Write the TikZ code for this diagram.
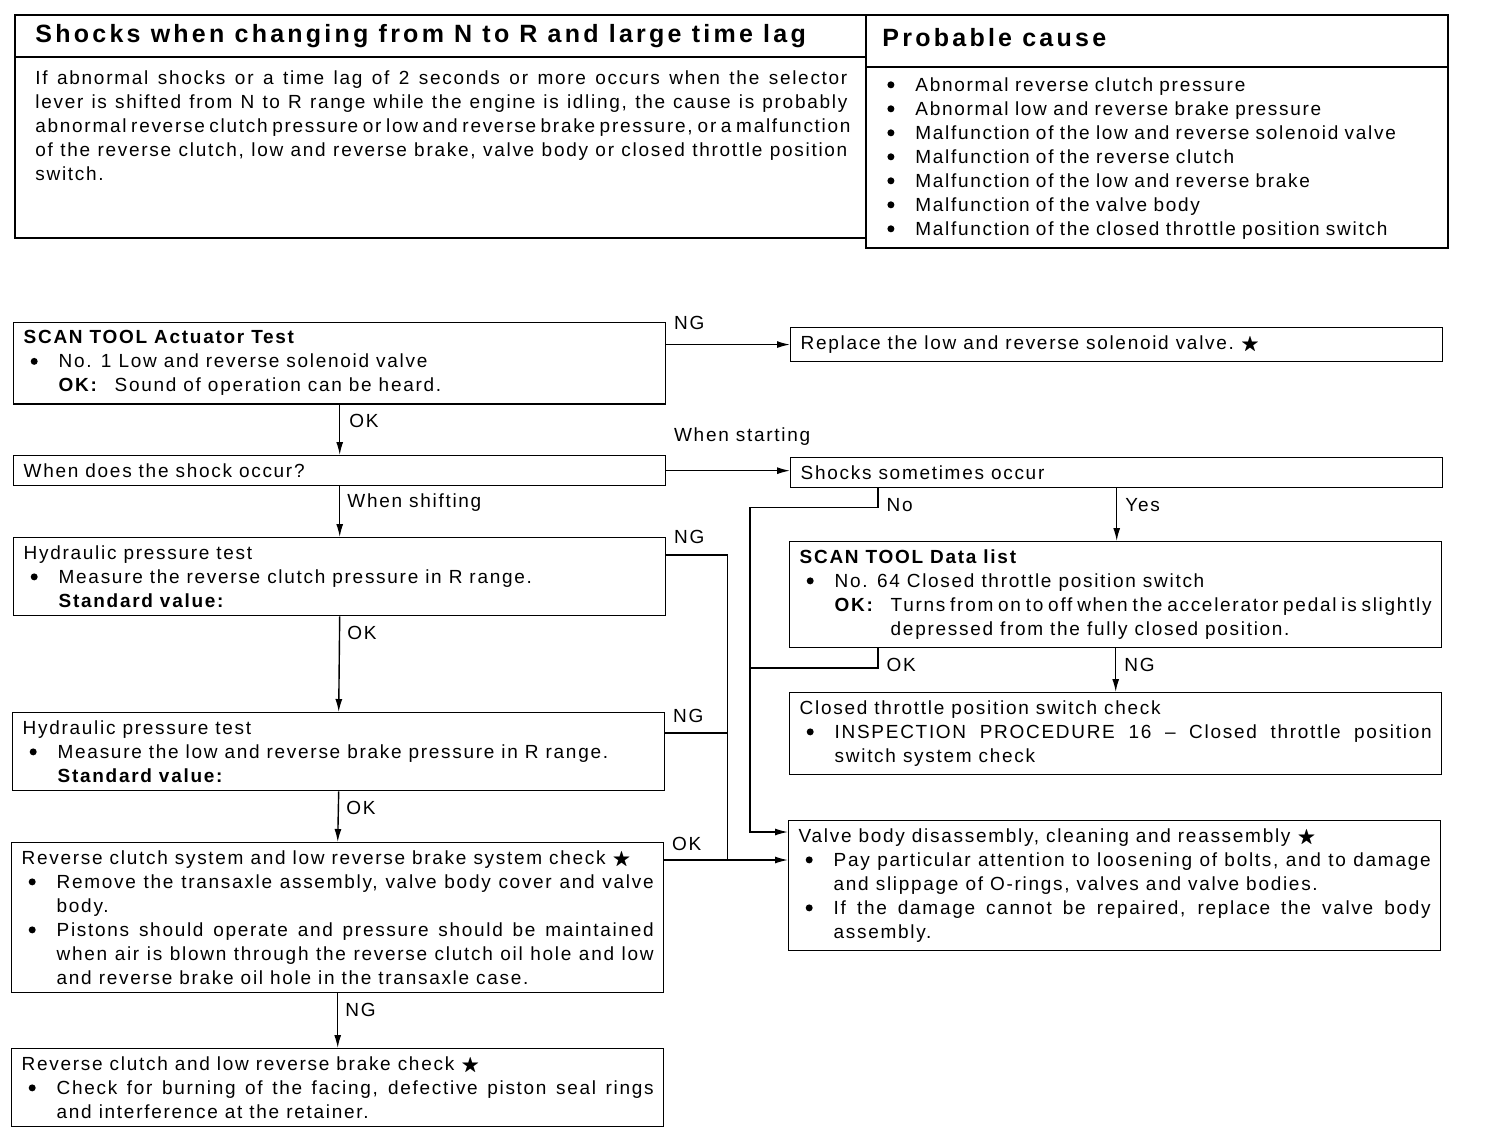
\documentclass[tikz,border=0pt]{standalone}
\usepackage{amssymb}
\usepackage{fontspec}
\setmainfont{Liberation Sans}[LetterSpace=9]
\usetikzlibrary{positioning,arrows.meta,calc}

% bullet item with hanging indent, OK line and standard value line
\newcommand{\dotmark}{\tikz[baseline=-3.3pt]\fill (0,0) circle (1.75pt);}
\newcommand{\bul}[1]{\par\hangindent=17.5pt\hangafter=1\noindent\hspace*{3.5pt}\makebox[14pt][l]{\dotmark}#1\par}
\newcommand{\okln}[2]{\par\hangindent=45.5pt\hangafter=1\noindent\hspace*{17.5pt}\makebox[28pt][l]{\textbf{#1}}#2\par}
\newcommand{\stdval}{\par\noindent\hspace*{17.5pt}\textbf{Standard value:}}
\newcommand{\mstar}{~$\bigstar$}
\newcommand{\bodyfont}{\fontsize{9.5}{12}\selectfont}

\tikzset{
  stepbox/.style={draw, line width=0.7pt, anchor=north west, text width=316pt,
                  align=justify, inner xsep=5pt, inner ysep=4pt, font=\bodyfont},
  lbl/.style={inner sep=1pt, font=\bodyfont},
  hdr/.style={inner sep=0pt, font=\fontsize{12.5}{14}\selectfont\bfseries\addfontfeature{LetterSpace=13}},
  arr/.style={-{Latex[length=6.5pt,width=3.5pt]}, line width=0.7pt},
  ln/.style={line width=0.7pt},
}

\begin{document}
\begin{tikzpicture}[x=0.5pt, y=-0.5pt]
\useasboundingbox (0,0) rectangle (1488,1136);

% summary table
\draw[ln] (15,15) rectangle (866,238);
\draw[ln] (15,57) -- (866,57);
\draw[ln] (866,15) -- (1448,15) -- (1448,248) -- (866,248) -- (866,238);
\draw[ln] (866,67) -- (1448,67);
\node[hdr, anchor=base west] (title) at (35,42) {Shocks when changing from N to R and large time lag};
\node[hdr, anchor=base west] (cause) at (882,46) {Probable cause};
\node[anchor=north west, inner sep=0pt, text width=406pt, align=justify, font=\bodyfont] (desc) at (35,70)
  {If abnormal shocks or a time lag of 2 seconds or more occurs when the selector\linebreak
   lever is shifted from N to R range while the engine is idling, the cause is probably\linebreak
   abnormal reverse clutch pressure or low and reverse brake pressure, or a malfunction\linebreak
   of the reverse clutch, low and reverse brake, valve body or closed throttle position\linebreak
   switch.};
\node[anchor=north west, inner sep=0pt, text width=270pt, align=left, font=\bodyfont] (causes) at (880,67)
  {\bul{Abnormal reverse clutch pressure}
   \bul{Abnormal low and reverse brake pressure}
   \bul{Malfunction of the low and reverse solenoid valve}
   \bul{Malfunction of the reverse clutch}
   \bul{Malfunction of the low and reverse brake}
   \bul{Malfunction of the valve body}
   \bul{Malfunction of the closed throttle position switch}};

% flow chart boxes
\node[stepbox] (act) at (13,322)
  {\textbf{SCAN TOOL Actuator Test}
   \bul{No. 1 Low and reverse solenoid valve}
   \okln{OK:}{Sound of operation can be heard.}};
\node[stepbox] (repl) at (790,327) {Replace the low and reverse solenoid valve.\mstar};
\node[stepbox] (when) at (13,455) {When does the shock occur?};
\node[stepbox] (some) at (790,457) {Shocks sometimes occur};
\node[stepbox] (hyd1) at (13,537)
  {Hydraulic pressure test
   \bul{Measure the reverse clutch pressure in R range.}
   \stdval};
\node[stepbox] (data) at (789,541)
  {\textbf{SCAN TOOL Data list}
   \bul{No. 64 Closed throttle position switch}
   \okln{OK:}{Turns from on to off when the accelerator pedal is slightly\linebreak
              depressed from the fully closed position.}};
\node[stepbox] (hyd2) at (12,712)
  {Hydraulic pressure test
   \bul{Measure the low and reverse brake pressure in R range.}
   \stdval};
\node[stepbox] (ctps) at (789,692)
  {Closed throttle position switch check
   \bul{INSPECTION PROCEDURE 16 -- Closed throttle position\linebreak
        switch system check}};
\node[stepbox] (sys) at (11,842)
  {Reverse clutch system and low reverse brake system check\mstar
   \bul{Remove the transaxle assembly, valve body cover and valve\linebreak body.}
   \bul{Pistons should operate and pressure should be maintained\linebreak
        when air is blown through the reverse clutch oil hole and low\linebreak
        and reverse brake oil hole in the transaxle case.}};
\node[stepbox] (vbody) at (788,820)
  {Valve body disassembly, cleaning and reassembly\mstar
   \bul{Pay particular attention to loosening of bolts, and to damage\linebreak
        and slippage of O-rings, valves and valve bodies.}
   \bul{If the damage cannot be repaired, replace the valve body\linebreak assembly.}};
\node[stepbox] (clutch) at (11,1048)
  {Reverse clutch and low reverse brake check\mstar
   \bul{Check for burning of the facing, defective piston seal rings\linebreak
        and interference at the retainer.}};

% helper points
\coordinate (okI) at ($(sys.north east)+(0,18)$);
\coordinate (busR) at ($(okI)+(63,0)$);
\coordinate (ngE) at ($(hyd1.north east)+(0,18)$);
\coordinate (ngG) at ($(hyd2.north east)+(0,21)$);
\coordinate (busL) at ($(vbody.north west)+(-38,12)$);
\coordinate (noD) at ($(some.south west)+(88,0)$);
\coordinate (okF) at ($(data.south west)+(89,0)$);

% connectors
\draw[arr] (act.east |- repl.west) -- node[lbl, pos=0, anchor=base west, xshift=2.5pt, yshift=7.5pt] {NG} (repl.west);
\draw[arr] (act.south) -- node[lbl, pos=0, anchor=north west, xshift=3.5pt, yshift=-3.5pt] {OK} (when.north);
\draw[arr] (when.east) -- node[lbl, pos=0, anchor=base west, xshift=2.5pt, yshift=14.5pt] {When starting} (when.east -| some.west);
\draw[arr] (when.south) -- node[lbl, pos=0, anchor=north west, xshift=2.5pt, yshift=-2.5pt] {When shifting} (hyd1.north);
\draw[arr] (hyd1.south) -- node[lbl, pos=0, anchor=north west, xshift=2.5pt, yshift=-3.5pt] {OK} (hyd2.north);
\draw[arr] (hyd2.south) -- node[lbl, pos=0, anchor=north west, xshift=2.5pt, yshift=-3.5pt] {OK} (sys.north);
\draw[arr] (sys.south) -- node[lbl, pos=0, anchor=north west, xshift=2.5pt, yshift=-3.5pt] {NG} (clutch.north);
\draw[ln] (ngE) -- node[lbl, pos=0, anchor=base west, xshift=2.5pt, yshift=6pt] {NG} (ngE -| busR) -- (busR);
\draw[ln] (ngG) -- node[lbl, pos=0, anchor=base west, xshift=2.5pt, yshift=5.5pt] {NG} (ngG -| busR);
\draw[arr] (okI) -- node[lbl, pos=0, anchor=base west, xshift=2.5pt, yshift=5pt] {OK} (okI -| vbody.west);
\draw[arr] (noD) -- node[lbl, pos=0, anchor=north west, xshift=3pt, yshift=-3.5pt] {No} ++(0,19) -| (busL) -- (busL -| vbody.west);
\draw[arr] (some.south) -- node[lbl, pos=0, anchor=north west, xshift=3pt, yshift=-3.5pt] {Yes} (some.south |- data.north);
\draw[ln] (okF) -- node[lbl, pos=0, anchor=north west, xshift=3pt, yshift=-3.5pt] {OK} ++(0,20) coordinate (okF2) -- (okF2 -| busL);
\draw[arr] (data.south) -- node[lbl, pos=0, anchor=north west, xshift=3pt, yshift=-3.5pt] {NG} (data.south |- ctps.north);
\end{tikzpicture}
\end{document}
